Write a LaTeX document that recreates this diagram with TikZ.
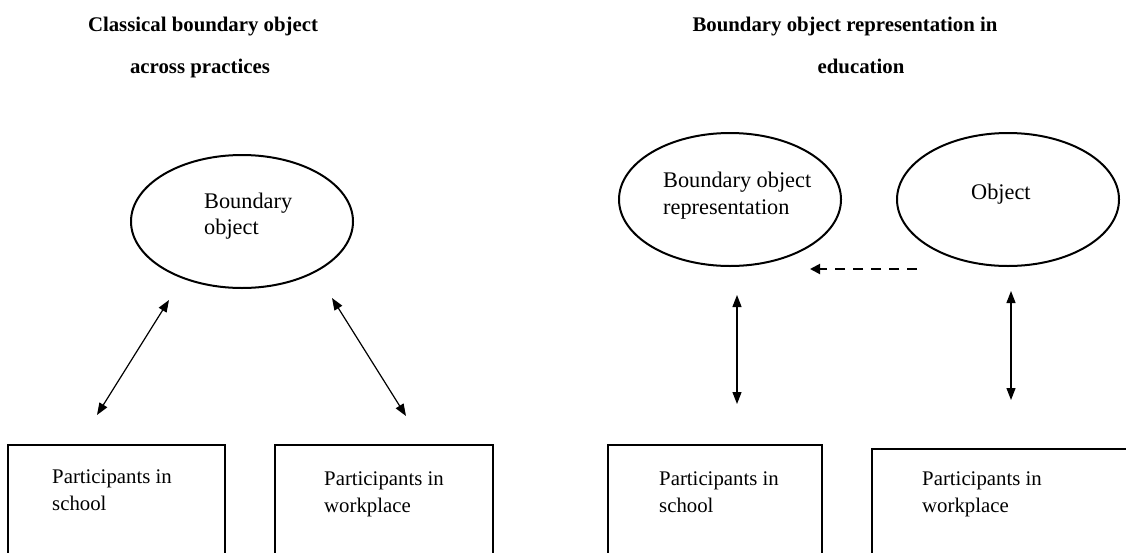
\documentclass[tikz,border=0pt]{standalone}
\usepackage{fontspec}
\setmainfont{Liberation Serif}
\usetikzlibrary{shapes.geometric,arrows.meta}
\tikzset{
  txt/.style={inner sep=0pt, anchor=base west, font=\fontsize{20.8}{26}\selectfont},
  etxt/.style={inner sep=0pt, anchor=base west, font=\fontsize{22.3}{27}\selectfont},
  ttl/.style={inner sep=0pt, anchor=base, font=\fontsize{20.8}{26}\selectfont\bfseries},
  oval/.style={draw, line width=2pt, ellipse, minimum width=222pt, minimum height=133pt, inner sep=0pt},
  pbox/.style={draw, line width=2pt},
  link/.style={line width=1.2pt, {Triangle[length=12pt,width=9pt]}-{Triangle[length=12pt,width=9pt]}},
  dlink/.style={line width=2pt, dash pattern=on 10pt off 8pt, -{Triangle[length=10pt,width=10pt]}}
}
\begin{document}
\begin{tikzpicture}[x=1pt,y=-1pt]
\useasboundingbox (0,0) rectangle (1126,552);
\clip (0,0) rectangle (1126,552);
% titles
\node[ttl] (t1) at (203,31) {Classical boundary object};
\node[ttl] (t2) at (200,73) {across practices};
\node[ttl] (t3) at (845,31) {Boundary object representation in};
\node[ttl] (t4) at (861,73) {education};
% ellipses
\node[oval] (bo) at (242,221.5) {};
\node[etxt] (bo1) at (204,208) {Boundary};
\node[etxt] (bo2) at (204,234) {object};
\node[oval] (bor) at (730,199.5) {};
\node[etxt] (bor1) at (663,187) {Boundary object};
\node[etxt] (bor2) at (663,214) {representation};
\node[oval] (ob) at (1008,199.5) {};
\node[etxt] (ob1) at (971,199) {Object};
% boxes
\draw[pbox] (8,445) rectangle (225,570);
\draw[pbox] (275,445) rectangle (493,570);
\draw[pbox] (608,445) rectangle (822,570);
\draw[pbox] (872,449) rectangle (1140,570);
\node[txt] (p1a) at (52,483) {Participants in};
\node[txt] (p1b) at (52,510) {school};
\node[txt] (p2a) at (324,485) {Participants in};
\node[txt] (p2b) at (324,512) {workplace};
\node[txt] (p3a) at (659,485) {Participants in};
\node[txt] (p3b) at (659,512) {school};
\node[txt] (p4a) at (922,485) {Participants in};
\node[txt] (p4b) at (922,512) {workplace};
% connector endpoints
\coordinate (a1s) at (97,415);
\coordinate (a1e) at (169,300);
\coordinate (a2s) at (332,298);
\coordinate (a2e) at (406,416);
\coordinate (a3s) at (737,295);
\coordinate (a3e) at (737,404);
\coordinate (a4s) at (1011,291);
\coordinate (a4e) at (1011,400);
\coordinate (ds) at (917,269);
\coordinate (de) at (810,269);
\draw[link] (a1s) -- (a1e);
\draw[link] (a2s) -- (a2e);
\draw[link] (a3s) -- (a3e);
\draw[link] (a4s) -- (a4e);
\draw[dlink] (ds) -- (de);
\end{tikzpicture}
\end{document}
